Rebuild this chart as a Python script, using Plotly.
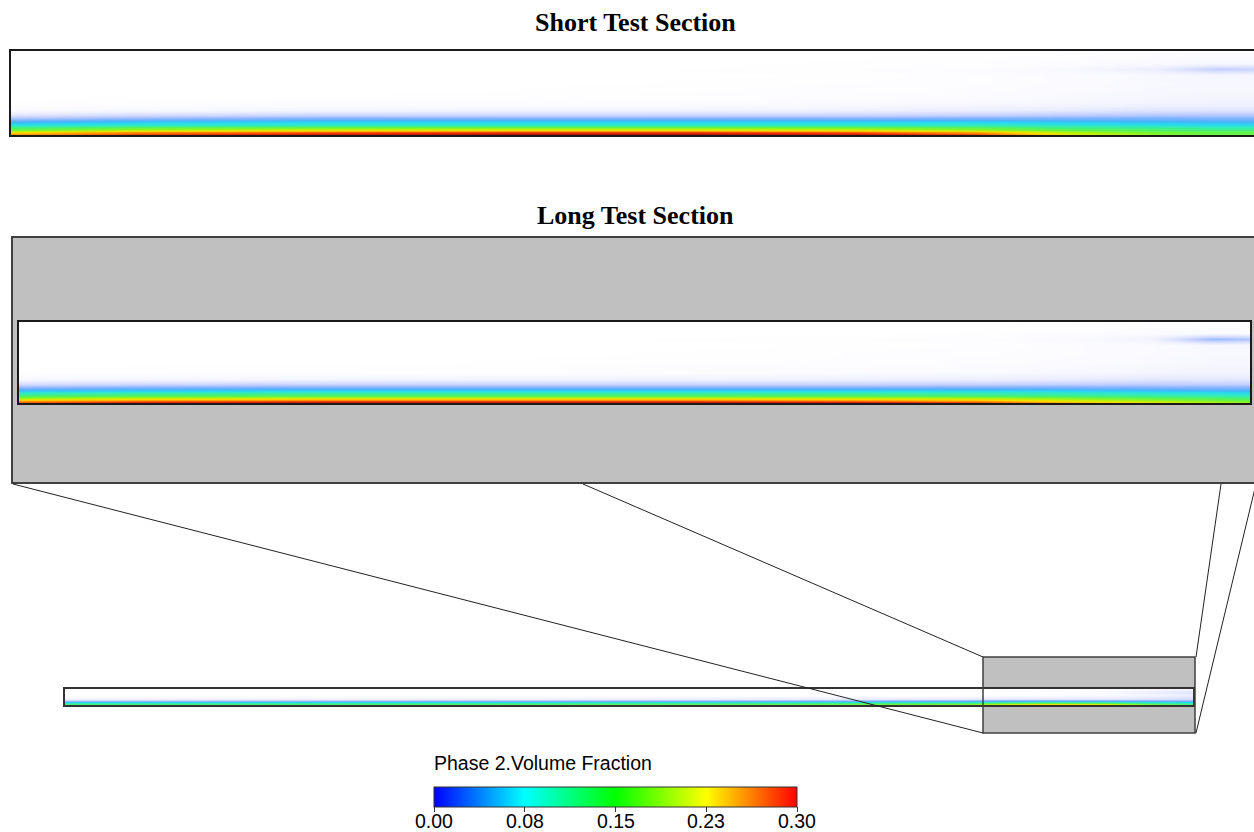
import plotly.graph_objects as go

W, H = 1254, 832

# ---------------- data ----------------
# Short test section: axial stations (fraction of length) and heights (fraction of pipe height)
short_x = [0.0, 0.1, 0.25, 0.4, 0.55, 0.68, 0.78, 0.85, 0.92, 0.97, 1.0]
short_y = [0.0, 0.03, 0.06, 0.09, 0.12, 0.15, 0.19, 0.24, 0.30, 0.38, 0.50, 0.62, 0.72, 0.79, 0.86, 1.0]
short_z = [
    [0.27, 0.30, 0.32, 0.33, 0.33, 0.32, 0.30, 0.22, 0.18, 0.16, 0.16],
    [0.22, 0.26, 0.28, 0.29, 0.29, 0.28, 0.25, 0.19, 0.16, 0.15, 0.15],
    [0.16, 0.19, 0.21, 0.22, 0.22, 0.21, 0.18, 0.15, 0.14, 0.13, 0.13],
    [0.12, 0.14, 0.15, 0.15, 0.15, 0.15, 0.14, 0.12, 0.11, 0.10, 0.10],
    [0.085, 0.095, 0.10, 0.10, 0.10, 0.10, 0.10, 0.09, 0.085, 0.08, 0.08],
    [0.06, 0.07, 0.075, 0.075, 0.075, 0.075, 0.075, 0.07, 0.065, 0.062, 0.06],
    [0.04, 0.045, 0.05, 0.05, 0.05, 0.05, 0.05, 0.05, 0.05, 0.048, 0.048],
    [0.02, 0.025, 0.028, 0.028, 0.028, 0.028, 0.03, 0.032, 0.034, 0.034, 0.034],
    [0.006, 0.008, 0.01, 0.011, 0.012, 0.013, 0.015, 0.017, 0.02, 0.02, 0.02],
    [0.001, 0.002, 0.003, 0.003, 0.004, 0.005, 0.007, 0.009, 0.011, 0.012, 0.012],
    [0.0, 0.0, 0.0, 0.001, 0.002, 0.003, 0.004, 0.006, 0.008, 0.009, 0.009],
    [0.0, 0.0, 0.0, 0.0, 0.001, 0.002, 0.003, 0.005, 0.007, 0.008, 0.008],
    [0.0, 0.0, 0.0, 0.0, 0.0, 0.001, 0.003, 0.005, 0.008, 0.01, 0.01],
    [0.0, 0.0, 0.0, 0.0, 0.001, 0.002, 0.004, 0.008, 0.015, 0.03, 0.028],
    [0.0, 0.0, 0.0, 0.0, 0.0, 0.001, 0.002, 0.004, 0.006, 0.008, 0.008],
    [0.0, 0.0, 0.0, 0.0, 0.0, 0.0, 0.001, 0.002, 0.003, 0.004, 0.004],
]

# Long test section (zoomed end region)
long_x = [0.0, 0.1, 0.25, 0.4, 0.55, 0.68, 0.78, 0.85, 0.92, 0.97, 1.0]
long_y = [0.0, 0.03, 0.06, 0.09, 0.12, 0.15, 0.19, 0.24, 0.30, 0.38, 0.50, 0.62, 0.72, 0.79, 0.86, 1.0]
long_z = [
    [0.30, 0.32, 0.33, 0.33, 0.33, 0.33, 0.31, 0.27, 0.23, 0.21, 0.19],
    [0.26, 0.28, 0.29, 0.29, 0.29, 0.28, 0.26, 0.22, 0.19, 0.17, 0.16],
    [0.18, 0.20, 0.21, 0.21, 0.21, 0.20, 0.19, 0.17, 0.15, 0.14, 0.13],
    [0.14, 0.15, 0.15, 0.15, 0.15, 0.15, 0.14, 0.13, 0.12, 0.11, 0.105],
    [0.10, 0.11, 0.11, 0.11, 0.11, 0.11, 0.105, 0.10, 0.09, 0.085, 0.08],
    [0.07, 0.075, 0.08, 0.08, 0.08, 0.08, 0.08, 0.075, 0.07, 0.065, 0.062],
    [0.045, 0.05, 0.05, 0.05, 0.05, 0.05, 0.05, 0.05, 0.048, 0.046, 0.046],
    [0.024, 0.026, 0.028, 0.028, 0.028, 0.028, 0.029, 0.03, 0.031, 0.031, 0.03],
    [0.008, 0.009, 0.01, 0.011, 0.012, 0.013, 0.014, 0.016, 0.018, 0.018, 0.018],
    [0.001, 0.002, 0.003, 0.003, 0.004, 0.005, 0.006, 0.008, 0.01, 0.011, 0.011],
    [0.0, 0.0, 0.0, 0.001, 0.002, 0.002, 0.004, 0.005, 0.007, 0.008, 0.008],
    [0.0, 0.0, 0.0, 0.0, 0.001, 0.002, 0.003, 0.004, 0.006, 0.007, 0.007],
    [0.0, 0.0, 0.0, 0.0, 0.0, 0.001, 0.002, 0.004, 0.006, 0.008, 0.008],
    [0.0, 0.0, 0.0, 0.0, 0.001, 0.002, 0.003, 0.006, 0.012, 0.04, 0.035],
    [0.0, 0.0, 0.0, 0.0, 0.0, 0.0, 0.001, 0.003, 0.005, 0.006, 0.006],
    [0.0, 0.0, 0.0, 0.0, 0.0, 0.0, 0.0, 0.001, 0.002, 0.003, 0.003],
]

# Whole long pipe (thin overview strip)
full_x = [0.0, 0.3, 0.6, 0.8, 0.83, 0.87, 0.92, 0.96, 1.0]
full_y = [0.0, 0.12, 0.25, 0.4, 0.6, 0.8, 1.0]
full_z = [
    [0.15, 0.16, 0.17, 0.20, 0.24, 0.29, 0.27, 0.20, 0.15],
    [0.10, 0.11, 0.12, 0.13, 0.15, 0.16, 0.15, 0.12, 0.10],
    [0.04, 0.045, 0.05, 0.055, 0.06, 0.065, 0.06, 0.055, 0.05],
    [0.012, 0.014, 0.016, 0.018, 0.02, 0.02, 0.02, 0.022, 0.025],
    [0.0, 0.0, 0.001, 0.002, 0.003, 0.004, 0.006, 0.01, 0.015],
    [0.0, 0.0, 0.0, 0.001, 0.002, 0.003, 0.005, 0.015, 0.02],
    [0.0, 0.0, 0.0, 0.0, 0.001, 0.002, 0.004, 0.008, 0.01],
]

cbar_min, cbar_max = 0.0, 0.30
cbar_tickvals = [0.0, 0.075, 0.15, 0.225, 0.30]
cbar_ticktext = ["0.00", "0.08", "0.15", "0.23", "0.30"]
titles = ["Short Test Section", "Long Test Section"]
cbar_title = "Phase 2.Volume Fraction"

# ---------------- styling ----------------
def px(x):
    return x / W

def py(y):
    return 1 - y / H

ZMAX = 0.34
field_scale = [
    [0.0, "rgb(255,255,255)"],
    [0.015, "rgb(251,251,255)"],
    [0.044, "rgb(236,238,255)"],
    [0.088, "rgb(196,208,255)"],
    [0.132, "rgb(128,178,255)"],
    [0.176, "rgb(70,180,250)"],
    [0.22, "rgb(40,215,240)"],
    [0.294, "rgb(50,235,190)"],
    [0.382, "rgb(70,240,120)"],
    [0.47, "rgb(110,245,60)"],
    [0.588, "rgb(200,240,0)"],
    [0.676, "rgb(255,215,0)"],
    [0.794, "rgb(255,130,0)"],
    [0.882, "rgb(235,40,0)"],
    [1.0, "rgb(110,0,0)"],
]
rainbow = [
    [0.0, "rgb(0,0,255)"],
    [0.25, "rgb(0,255,255)"],
    [0.5, "rgb(0,255,0)"],
    [0.75, "rgb(255,255,0)"],
    [1.0, "rgb(255,0,0)"],
]

fig = go.Figure()

def add_field(x, y, z, ax):
    fig.add_trace(go.Heatmap(
        x=x, y=y, z=z, zmin=0, zmax=ZMAX, colorscale=field_scale,
        zsmooth="best", showscale=False, hoverinfo="skip",
        xaxis="x" + ax, yaxis="y" + ax,
    ))

add_field(short_x, short_y, short_z, "")
add_field(long_x, long_y, long_z, "2")
add_field(full_x, full_y, full_z, "3")

CB_X0, CB_X1, CB_TOP = 434, 797, 787

# dummy trace carrying the colour bar
fig.add_trace(go.Scatter(
    x=[0.5], y=[0.5], mode="markers", xaxis="x4", yaxis="y4", hoverinfo="skip",
    marker=dict(
        size=1, opacity=0, color=[cbar_min], cmin=cbar_min, cmax=cbar_max,
        colorscale=rainbow, showscale=True,
        colorbar=dict(
            orientation="h", x=px(CB_X0), xanchor="left", y=py(CB_TOP), yanchor="top",
            len=(CB_X1 - CB_X0) / W, lenmode="fraction", thickness=20, thicknessmode="pixels",
            outlinewidth=1, outlinecolor="#333", xpad=0, ypad=0,
            ticks="outside", ticklen=5, tickwidth=1, tickcolor="#333",
            tickvals=cbar_tickvals, showticklabels=False,
        ),
    ),
))

def axis(domain, anchor, lw=2, lc="#1a1a1a", visible=True):
    return dict(domain=domain, anchor=anchor, range=[0, 1], showgrid=False, zeroline=False,
                showticklabels=False, ticks="", showline=visible, mirror=True,
                linecolor=lc, linewidth=lw, fixedrange=True, visible=visible)

layout = dict(
    width=W, height=H, margin=dict(l=0, r=0, t=0, b=0, autoexpand=False),
    paper_bgcolor="white", plot_bgcolor="rgba(0,0,0,0)", showlegend=False,
    xaxis=axis([px(11), 1.0], "y"),
    yaxis=axis([py(135), py(51)], "x"),
    xaxis2=axis([px(19), px(1250)], "y2"),
    yaxis2=axis([py(403), py(322)], "x2"),
    xaxis3=axis([px(65), px(1193)], "y3", lw=1.5, lc="#333"),
    yaxis3=axis([py(705), py(689)], "x3", lw=1.5, lc="#333"),
    xaxis4=axis([0.0, 0.01], "y4", visible=False),
    yaxis4=axis([0.0, 0.01], "x4", visible=False),
)
fig.update_layout(**layout)

GREY = "#c0c0c0"
EDGE = "#404040"
shapes = [
    # big grey zoom box
    dict(type="rect", xref="paper", yref="paper", x0=px(12), x1=px(1258), y0=py(483), y1=py(237),
         fillcolor=GREY, line=dict(color=EDGE, width=2), layer="below"),
    # small grey box on overview
    dict(type="rect", xref="paper", yref="paper", x0=px(983), x1=px(1195), y0=py(733), y1=py(657),
         fillcolor=GREY, line=dict(width=0), layer="below"),
    dict(type="rect", xref="paper", yref="paper", x0=px(983), x1=px(1195), y0=py(733), y1=py(657),
         fillcolor="rgba(0,0,0,0)", line=dict(color=EDGE, width=1.5), layer="above"),
]
connectors = [
    ((13, 484), (983, 733)),
    ((583, 484), (983, 657)),
    ((1221, 484), (1196, 657)),
    ((1256, 484), (1196, 733)),
]
for (x0, y0), (x1, y1) in connectors:
    shapes.append(dict(type="line", xref="paper", yref="paper", x0=px(x0), y0=py(y0),
                       x1=px(x1), y1=py(y1), line=dict(color="#222", width=1), layer="above"))
fig.update_layout(shapes=shapes)

title_font = dict(family="Liberation Serif, Times New Roman", size=26, color="black", weight="bold")
label_font = dict(family="Liberation Sans, Arial", size=19.5, color="black")
annotations = [
    dict(text=titles[0], x=px(635), y=py(23), xref="paper", yref="paper", showarrow=False,
         xanchor="center", yanchor="middle", font=title_font),
    dict(text=titles[1], x=px(635), y=py(215), xref="paper", yref="paper", showarrow=False,
         xanchor="center", yanchor="middle", font=title_font),
    dict(text=cbar_title, x=px(432), y=py(763), xref="paper", yref="paper", showarrow=False,
         xanchor="left", yanchor="middle",
         font=dict(family="Liberation Sans, Arial", size=19.5, color="black")),
]
# colour-bar tick labels placed on the bar's linear value scale
for v, t in zip(cbar_tickvals, cbar_ticktext):
    xpix = CB_X0 + (v - cbar_min) / (cbar_max - cbar_min) * (CB_X1 - CB_X0)
    annotations.append(dict(text=t, x=px(xpix), y=py(821), xref="paper", yref="paper",
                            showarrow=False, xanchor="center", yanchor="middle", font=label_font))
fig.update_layout(annotations=annotations)

fig.write_html("out.html")
